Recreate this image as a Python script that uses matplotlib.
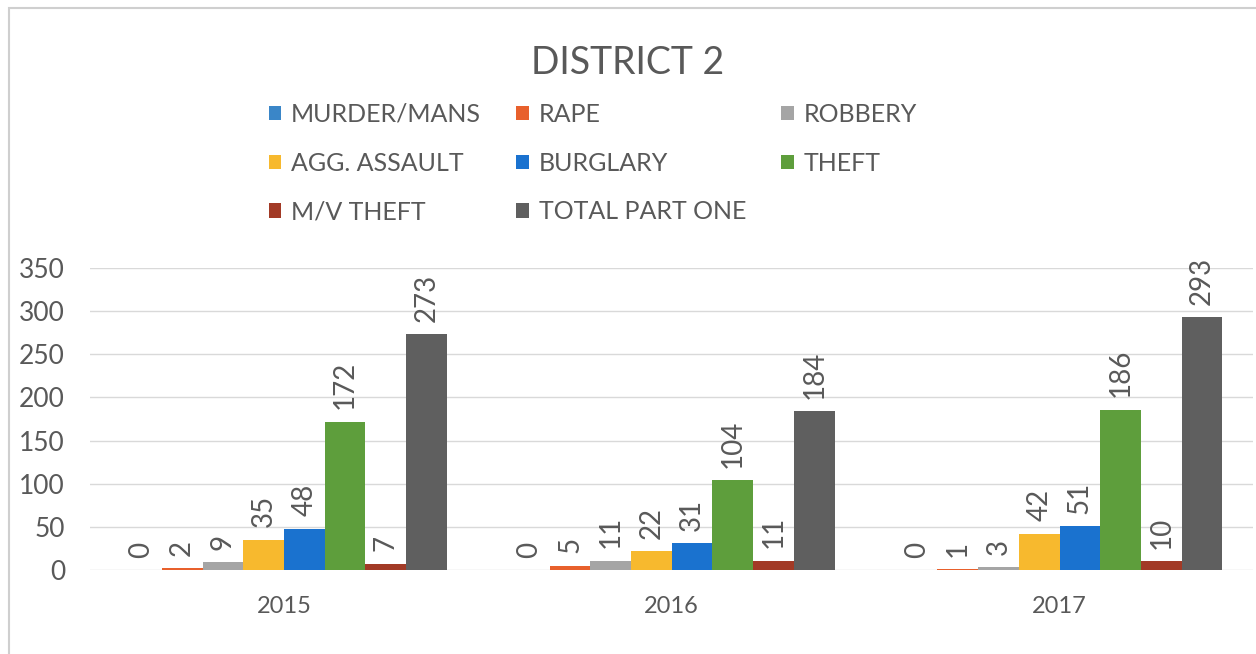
import matplotlib.pyplot as plt
import matplotlib.patches as mpatches
import numpy as np

# Data
years = ['2015', '2016', '2017']
series = ['MURDER/MANS', 'RAPE', 'ROBBERY', 'AGG. ASSAULT',
          'BURGLARY', 'THEFT', 'M/V THEFT', 'TOTAL PART ONE']
murder = [0, 0, 0]
rape = [2, 5, 1]
robbery = [9, 11, 3]
agg_assault = [35, 22, 42]
burglary = [48, 31, 51]
theft = [172, 104, 186]
mv_theft = [7, 11, 10]
total = [273, 184, 293]
values = [murder, rape, robbery, agg_assault, burglary, theft, mv_theft, total]

colors = ['#3A86C8', '#E8602C', '#A5A5A5', '#F7B92E',
          '#1A72CF', '#5E9E3C', '#A23A26', '#5F5F5F']

plt.rcParams['font.family'] = ['Lato', 'DejaVu Sans']
txt = '#595959'

fig = plt.figure(figsize=(12.56, 6.54), dpi=100)
ax = fig.add_axes([0.0717, 0.1284, 0.9263, 0.4618])

x = np.arange(len(years))
n = len(series)
w = 0.105
handles = []
for i in range(n):
    bars = ax.bar(x + (i - (n - 1) / 2) * w, values[i], w,
                  color=colors[i], label=series[i], zorder=3)
    ax.bar_label(bars, padding=9, rotation=90, fontsize=20, color=txt,
                 clip_on=False)
    handles.append(bars)

ax.set_xlim(-0.5, 2.5)
ax.set_ylim(0, 350)
ax.set_yticks(np.arange(0, 351, 50))
ax.set_xticks(x)
ax.set_xticklabels(years)
ax.tick_params(axis='both', length=0, colors=txt)
ax.tick_params(axis='y', pad=18, labelsize=19)
ax.tick_params(axis='x', pad=19, labelsize=17)
ax.grid(axis='y', color='#D9D9D9', linewidth=1, zorder=0)
for s in ax.spines.values():
    s.set_visible(False)

# Legend: row-major order in 3 columns
order = [0, 3, 6, 1, 4, 7, 2, 5]
fig.legend([handles[k] for k in order], [series[k] for k in order],
           ncol=3, loc='upper left', bbox_to_anchor=(0.196, 0.877),
           frameon=False, fontsize=18, labelcolor=txt,
           handlelength=0.5, handleheight=0.5, handletextpad=0.4,
           columnspacing=1.4, labelspacing=1.03)

fig.text(0.5, 0.903, 'DISTRICT 2', ha='center', va='center',
         fontsize=27, color=txt)

# chart border
fig.patches.append(mpatches.Rectangle((0.007, -0.01), 1.1, 0.998,
                                      transform=fig.transFigure,
                                      fill=False, edgecolor='#CFCFCF',
                                      linewidth=1.5))

fig.savefig('out.png', dpi=100, facecolor='white')
